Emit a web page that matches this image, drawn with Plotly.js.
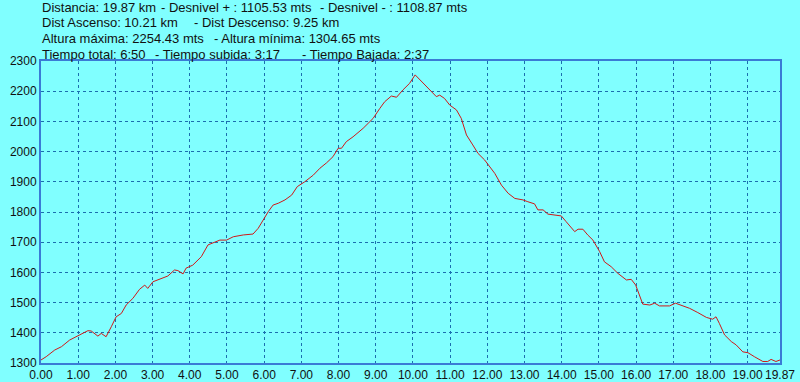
<!DOCTYPE html>
<html>
<head>
<meta charset="utf-8">
<script src="https://cdn.plot.ly/plotly-3.0.1.min.js"></script>
<style>html,body{margin:0;padding:0;background:#80ffff;}#chart{width:800px;height:382px;}</style>
</head>
<body>
<div id="chart"></div>
<script>
// Distance along route (km)
const distKm = [0.00,0.14,0.37,0.55,0.77,0.95,1.08,1.26,1.35,1.53,1.62,1.75,1.89,2.02,2.16,2.29,2.47,2.65,2.79,2.87,3.01,3.23,3.41,3.59,3.68,3.82,3.90,4.08,4.31,4.49,4.62,4.81,4.99,5.17,5.44,5.70,5.84,5.97,6.11,6.24,6.38,6.56,6.74,6.89,7.09,7.32,7.50,7.68,7.85,7.99,8.08,8.21,8.39,8.66,8.93,9.11,9.24,9.42,9.56,9.73,9.91,10.06,10.23,10.45,10.63,10.72,10.85,10.99,11.17,11.30,11.44,11.61,11.75,11.93,12.06,12.20,12.38,12.56,12.74,12.96,13.09,13.27,13.36,13.50,13.63,13.99,14.12,14.35,14.44,14.57,14.70,14.84,15.02,15.15,15.33,15.51,15.74,15.87,15.99,16.10,16.18,16.37,16.50,16.63,16.90,17.06,17.26,17.44,17.66,17.89,18.06,18.15,18.24,18.38,18.56,18.69,18.87,19.01,19.18,19.41,19.54,19.63,19.76,19.87];
// Elevation (m)
const altM = [1310,1321,1343,1354,1376,1387,1396,1407,1406,1389,1398,1387,1420,1453,1464,1492,1514,1544,1558,1547,1569,1580,1588,1608,1606,1595,1614,1624,1652,1691,1698,1707,1707,1718,1724,1727,1746,1774,1801,1823,1829,1840,1856,1884,1900,1922,1945,1963,1983,2011,2011,2033,2049,2077,2110,2143,2165,2184,2180,2204,2226,2254,2232,2204,2182,2187,2176,2154,2138,2110,2055,2022,1994,1972,1950,1928,1889,1862,1845,1840,1834,1827,1807,1807,1793,1787,1768,1735,1743,1743,1724,1707,1669,1635,1619,1597,1575,1577,1558,1525,1495,1492,1498,1489,1489,1498,1489,1481,1467,1451,1445,1453,1431,1393,1371,1360,1337,1334,1321,1305,1305,1312,1305,1310];

const xTickVals = [0,1,2,3,4,5,6,7,8,9,10,11,12,13,14,15,16,17,18,19,19.87];
const xTickText = ["0.00","1.00","2.00","3.00","4.00","5.00","6.00","7.00","8.00","9.00","10.00","11.00","12.00","13.00","14.00","15.00","16.00","17.00","18.00","19.00","19.87"];
const yTickVals = [1300,1400,1500,1600,1700,1800,1900,2000,2100,2200,2300];

// Header text segments: [line, text]
const headerLine = [0,0,0,1,1,2,2,3,3,3];
const headerText = [
  "Distancia: 19.87 km", "- Desnivel + : 1105.53 mts", "- Desnivel - : 1108.87 mts",
  "Dist Ascenso: 10.21 km", "- Dist Descenso: 9.25 km",
  "Altura máxima: 2254.43 mts", "- Altura mínima: 1304.65 mts",
  "Tiempo total: 6:50", "- Tiempo subida: 3:17", "- Tiempo Bajada: 2:37"
];
const headerPx = [40,159,318,40,192,40,212,40,153,300];

const L = 41, R = 780, T = 61, B = 363, W = 800, H = 382;
const lineY = [7.3, 22.8, 38.4, 54];
const annotations = headerText.map((t, i) => ({
  text: t, showarrow: false, xref: 'paper', yref: 'paper',
  x: (headerPx[i] - L) / (R - L), y: (B - lineY[headerLine[i]]) / (B - T),
  xanchor: 'left', yanchor: 'middle',
  font: {family: 'Liberation Sans, Arial, sans-serif', size: 13, color: '#111'}
}));

const axisCommon = {
  showline: true, mirror: true, linecolor: '#3a7bd5', linewidth: 2,
  showgrid: true, gridcolor: '#1b6fae', gridwidth: 1, griddash: 'dot',
  zeroline: false, ticks: '', fixedrange: true,
  tickfont: {family: 'Liberation Sans, Arial, sans-serif', size: 12, color: '#111'}
};

Plotly.newPlot('chart', [{
  x: distKm, y: altM, type: 'scatter', mode: 'lines',
  line: {color: '#d01818', width: 1}, hoverinfo: 'skip'
}], {
  width: W, height: H,
  margin: {l: L, r: W - R, t: T, b: H - B, pad: 0},
  paper_bgcolor: '#80ffff', plot_bgcolor: '#80ffff',
  showlegend: false,
  xaxis: Object.assign({}, axisCommon, {range: [0, 19.87], tickmode: 'array', tickvals: xTickVals, ticktext: xTickText, ticklabelstandoff: 0}),
  yaxis: Object.assign({}, axisCommon, {range: [1300, 2300], tickmode: 'array', tickvals: yTickVals, ticklabelstandoff: 0}),
  annotations: annotations
}, {displayModeBar: false, staticPlot: true});
</script>
</body>
</html>
